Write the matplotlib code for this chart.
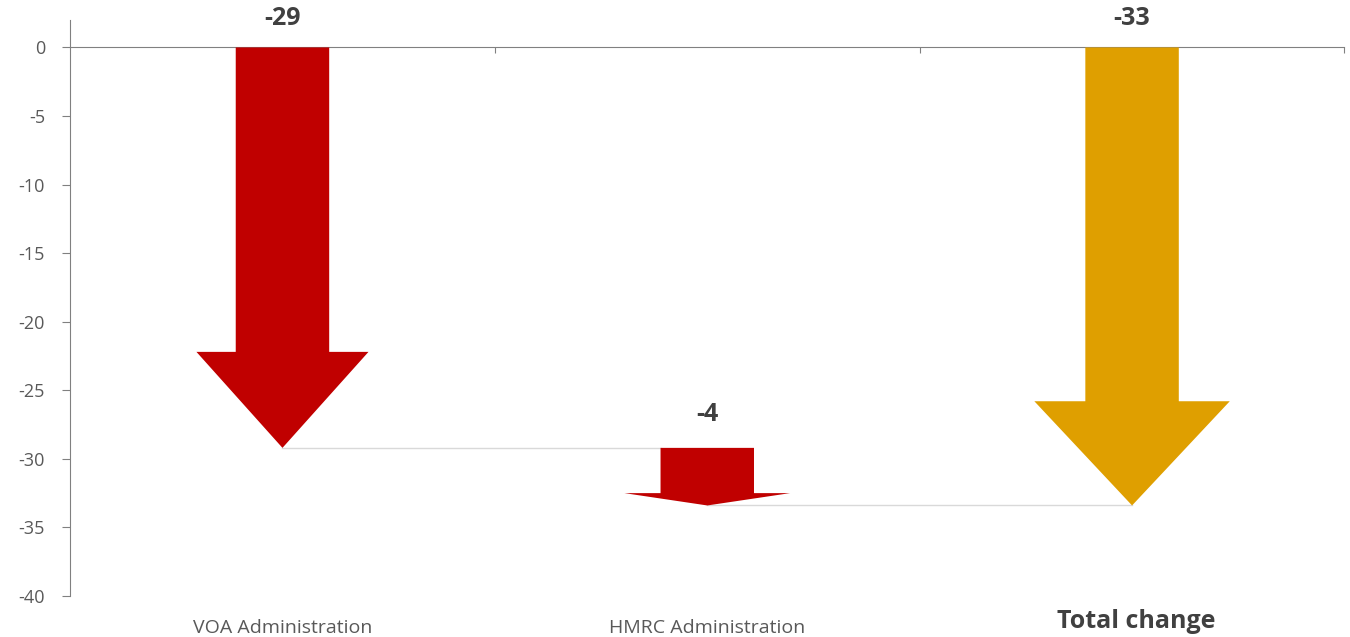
import matplotlib
matplotlib.use("Agg")
import matplotlib.pyplot as plt
from matplotlib.patches import FancyArrow
from matplotlib.transforms import blended_transform_factory

# data
categories = ["VOA Administration", "HMRC Administration", "Total change"]
starts = [0, -29.2, 0]
changes = [-29.2, -4.2, -33.4]
labels = ["-29", "-4", "-33"]
colors = ["#C00000", "#C00000", "#DF9F00"]
yticks = [0, -5, -10, -15, -20, -25, -30, -35, -40]

plt.rcParams["font.family"] = ["Open Sans", "DejaVu Sans"]

fig = plt.figure(figsize=(13.5, 6.37), dpi=100)
ax = fig.add_axes([0.0519, 0.0644, 0.944, 0.9042])

# arrow shapes (style only)
head_w = [0.405, 0.39, 0.46]
head_l = [7.0, 0.9, 7.6]
shaft_w = 0.22

for i in range(3):
    arr = FancyArrow(i, starts[i], 0, changes[i], width=shaft_w,
                     head_width=head_w[i], head_length=head_l[i],
                     length_includes_head=True, color=colors[i], lw=0, zorder=3)
    ax.add_patch(arr)
    off = 12 if starts[i] == 0 else 15
    ax.annotate(labels[i], (i, starts[i]), xytext=(0, off), textcoords="offset points",
                ha="center", va="bottom", fontsize=18, fontweight="bold",
                color="#404040", annotation_clip=False)

# connector lines between tips
ends = [s + c for s, c in zip(starts, changes)]
ax.plot([0, 1 - shaft_w / 2], [ends[0], ends[0]], color="#D9D9D9", lw=1, zorder=1)
ax.plot([1, 2], [ends[1], ends[1]], color="#D9D9D9", lw=1, zorder=1)

ax.set_xlim(-0.5, 2.5)
ax.set_ylim(-40, 2)
ax.set_yticks(yticks)
ax.set_yticklabels([str(t) for t in yticks])
ax.tick_params(axis="y", colors="#808080", labelcolor="#595959", labelsize=13,
               length=6, pad=12)

ax.spines["top"].set_visible(False)
ax.spines["right"].set_visible(False)
ax.spines["left"].set_color("#808080")
ax.spines["bottom"].set_position(("data", 0))
ax.spines["bottom"].set_color("#808080")
ax.set_xticks([0.5, 1.5, 2.5])
ax.set_xticklabels([])
ax.tick_params(axis="x", colors="#808080", length=4)

trans = blended_transform_factory(ax.transData, ax.transAxes)
for i, cat in enumerate(categories):
    if i == 2:
        ax.text(i + 0.01, -0.045, cat, transform=trans, ha="center", va="center",
                fontsize=18, fontweight="bold", color="#404040")
    else:
        ax.text(i, -0.055, cat, transform=trans, ha="center", va="center",
                fontsize=14, color="#595959")

fig.savefig("out.png", dpi=100)
